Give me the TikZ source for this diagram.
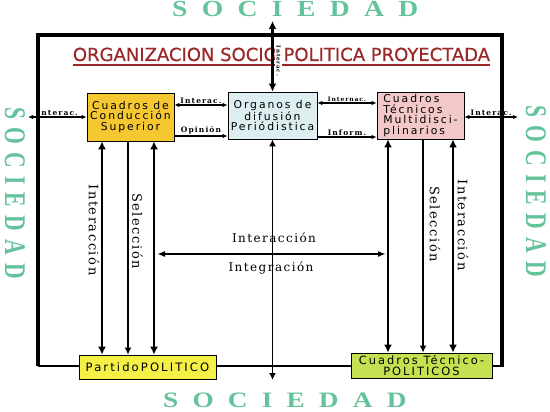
\documentclass[tikz,border=0pt]{standalone}
\usepackage{fontspec}
\usepackage{xcolor}
\usetikzlibrary{arrows.meta}
\newfontfamily\boxfont[LetterSpace=18]{DejaVu Sans}
\newfontfamily\titlefont[FakeBold=0.6]{DejaVu Sans}
\newfontfamily\lblfont[LetterSpace=12]{DejaVu Serif}
\newfontfamily\tinyfont[LetterSpace=15]{DejaVu Serif}
\newfontfamily\socfont[LetterSpace=52]{Liberation Serif}
\newfontfamily\socfontv[LetterSpace=38]{Liberation Serif}
\definecolor{verdesoc}{RGB}{100,195,155}
\definecolor{rojotit}{RGB}{155,40,40}
\definecolor{cajaA}{RGB}{245,200,50}
\definecolor{cajaB}{RGB}{220,238,240}
\definecolor{cajaC}{RGB}{242,200,200}
\definecolor{cajaD}{RGB}{245,240,70}
\definecolor{cajaE}{RGB}{195,225,80}

\begin{document}
\begin{tikzpicture}[x=1pt,y=-1pt,>={Latex[length=5pt,width=4.5pt]},
  caja/.style={draw,line width=0.8pt,inner sep=0pt,align=center,
    font=\boxfont\fontsize{10.8}{10.7}\selectfont},
  flecha/.style={line width=1.2pt},
  gruesa/.style={line width=2.6pt,>={Latex[length=8pt,width=8pt]}},
  media/.style={line width=2pt,>={Latex[length=7pt,width=7pt]}},
  etq/.style={font=\tinyfont\bfseries\fontsize{7.5}{8}\selectfont,inner sep=1pt},
  rot/.style={rotate=-90,font=\lblfont\fontsize{13}{13}\selectfont},
  soc/.style={text=verdesoc,inner sep=0pt,font=\socfont\bfseries\fontsize{23}{23}\selectfont},
  socv/.style={text=verdesoc,inner sep=0pt,rotate=-90,anchor=west,
    font=\socfontv\bfseries\fontsize{30}{30}\selectfont}]
  \useasboundingbox (0,0) rectangle (550,412);

  % sociedad alrededor
  \node[soc,anchor=base west] at (172,16.5) {\scalebox{1.2}[1]{SOCIEDAD}};
  \node[soc,anchor=base west,font=\socfont\bfseries\fontsize{22}{22}\selectfont] at (163,407.5)
    {\scalebox{1.24}[1]{SOCIEDAD}};
  \node[socv] at (15,107) {\scalebox{0.72}[1]{SOCIEDAD}};
  \node[socv] at (536,105) {\scalebox{0.72}[1]{SOCIEDAD}};

  % marco
  \coordinate (mSO) at (38,366);
  \coordinate (mNO) at (38,35);
  \coordinate (mNE) at (502,35);
  \coordinate (mSE) at (502,367);
  \draw[line width=2pt] (mSO) -- (mSE |- mSO);
  \draw[line width=4.5pt] (mSO) -- (mNO) -- (mNE) -- (mSE);

  \node[text=rojotit,font=\titlefont\fontsize{18}{18}\selectfont,inner sep=0pt,anchor=base]
    (titulo) at (281.5,61) {ORGANIZACION SOCIO POLITICA PROYECTADA};
  \draw[rojotit,line width=1.5pt] ([yshift=-4pt]titulo.base west) -- ([yshift=-4pt]titulo.base east);

  % cajas
  \node[caja,fill=cajaA,minimum width=87pt,minimum height=48pt] (cond) at (130.5,117)
    {Cuadros de\\Conducción\\Superior};
  \node[caja,fill=cajaB,minimum width=89pt,minimum height=47pt] (org) at (272.5,115.5)
    {Organos de\\difusión\\Periódistica};
  \node[caja,fill=cajaC,minimum width=87pt,minimum height=47pt,align=left] (tec) at (420.5,115.5)
    {Cuadros\\Técnicos\\Multidisci-\\plinarios};
  \node[caja,fill=cajaD,minimum width=137pt,minimum height=24pt,
    font=\boxfont\fontsize{11.6}{11}\selectfont] (part) at (147.5,367)
    {PartidoPOLITICO};
  \node[caja,fill=cajaE,minimum width=141pt,minimum height=25pt,
    font=\boxfont\fontsize{11.4}{11}\selectfont] (tpol) at (421.5,365.5)
    {Cuadros Técnico-\\POLITICOS};

  % extremos libres y niveles
  \coordinate (socN) at (272.5,21);
  \coordinate (socS) at (272.5,380);
  \coordinate (socW) at (28,117);
  \coordinate (socE) at (518,117);
  \coordinate (nA) at (0,105);
  \coordinate (nB) at (0,136);
  \coordinate (nC) at (0,103);
  \coordinate (nD) at (0,137);

  \draw[gruesa,<->,line width=2.2pt] (socN) -- (org.north);
  \node[etq,rotate=-90,fill=white,font=\tinyfont\bfseries\fontsize{5.5}{5.5}\selectfont] at (278.5,61) {Interac.};
  \draw[media,<->,line width=1.5pt] (org.south) -- (socS);

  \draw[flecha,<->] (socW) -- (cond.west) node[midway,above,etq] {Interac.};
  \draw[flecha,<->] (cond.east |- nA) -- (org.west |- nA) node[midway,above,etq] {Interac.};
  \draw[flecha,->] (cond.east |- nB) -- (org.west |- nB) node[midway,above,etq] {Opinión};
  \draw[flecha,<->] (org.east |- nC) -- (tec.west |- nC)
    node[midway,above,etq,font=\tinyfont\bfseries\fontsize{6}{6}\selectfont] {Internac.};
  \draw[flecha,->] (org.east |- nD) -- (tec.west |- nD) node[midway,above,etq] {Inform.};
  \draw[flecha,<->] (tec.east |- socE) -- (socE) node[midway,above,etq] {Interac.};

  % verticales
  \coordinate (v1) at ([xshift=-28.5pt]cond.south);
  \coordinate (v2) at ([xshift=-2.5pt]cond.south);
  \coordinate (v3) at ([xshift=23.5pt]cond.south);
  \coordinate (v4) at ([xshift=-32.5pt]tec.south);
  \coordinate (v5) at ([xshift=2.5pt]tec.south);
  \coordinate (v6) at ([xshift=32.5pt]tec.south);
  \draw[gruesa,<->] (v1) -- (v1 |- part.north);
  \draw[media,->] (v2) -- (v2 |- part.north);
  \draw[gruesa,<->] (v3) -- (v3 |- part.north);
  \draw[gruesa,<->] (v4) -- (v4 |- tpol.north);
  \draw[media,->] (v5) -- (v5 |- tpol.north);
  \draw[gruesa,<->] (v6) -- (v6 |- tpol.north);
  \node[rot] at (94,230) {Interacción};
  \node[rot] at (137.5,231) {Selección};
  \node[rot] at (435,224) {Selección};
  \node[rot] at (463,225) {Interacción};

  \coordinate (intA) at (157,254);
  \coordinate (intB) at (386,254);
  \draw[<->,line width=1.8pt,>={Latex[length=8pt,width=6pt]}] (intA) -- (intB);
  \node[font=\lblfont\fontsize{12}{12}\selectfont,anchor=base] at (274,243) {Interacción};
  \node[font=\lblfont\fontsize{12}{12}\selectfont,anchor=base] at (271,271.5) {Integración};
\end{tikzpicture}
\end{document}
